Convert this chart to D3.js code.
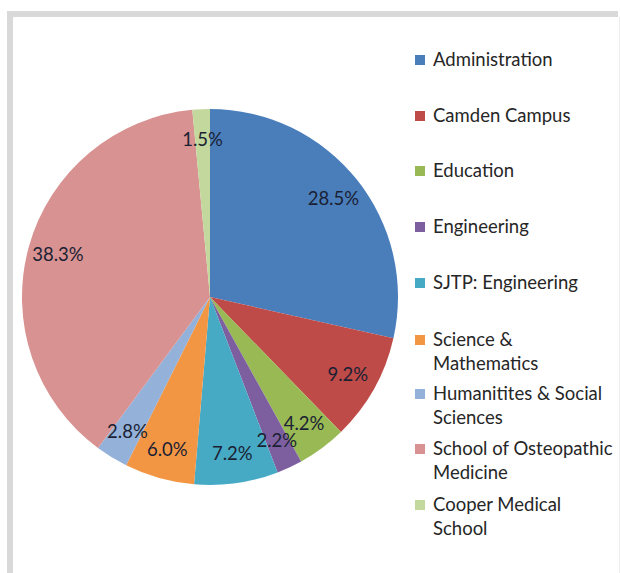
<!DOCTYPE html>
<html>
<head>
<meta charset="utf-8">
<script src="https://cdn.jsdelivr.net/npm/d3@7"></script>
<style>
html,body{margin:0;padding:0;background:#fff;}
svg{display:block;}
</style>
</head>
<body>
<svg id="chart" width="620" height="573"></svg>
<script>
const categories = ["Administration","Camden Campus","Education","Engineering","SJTP: Engineering","Science & Mathematics","Humanitites & Social Sciences","School of Osteopathic Medicine","Cooper Medical School"];
const values = [28.5, 9.2, 4.2, 2.2, 7.2, 6.0, 2.8, 38.3, 1.5];
const legendLines = [["Administration"],["Camden Campus"],["Education"],["Engineering"],["SJTP: Engineering"],["Science &","Mathematics"],["Humanitites & Social","Sciences"],["School of Osteopathic","Medicine"],["Cooper Medical","School"]];
const colors = ["#4A7EBB","#BE4B48","#98B954","#7D5FA0","#46AAC5","#F39644","#93B1D9","#D79291","#C2D89C"];

const svg = d3.select("#chart");
// frame
svg.append("rect").attr("x",0).attr("y",0).attr("width",620).attr("height",573).attr("fill","#fff");
svg.append("path").attr("d","M10,573 V14 H618").attr("fill","none").attr("stroke","#d9d9d9").attr("stroke-width",6);
svg.append("line").attr("x1",619.5).attr("x2",619.5).attr("y1",17).attr("y2",573).attr("stroke","#eeeeee").attr("stroke-width",1);

const cx = 210, cy = 297, r = 188;
const g = svg.append("g").attr("transform",`translate(${cx},${cy})`);
const pie = d3.pie().sort(null).value(d=>d)(values);
const arc = d3.arc().innerRadius(0).outerRadius(r);
g.selectAll("path.slice").data(pie).enter().append("path")
  .attr("class","slice")
  .attr("d",arc)
  .attr("fill",(d,i)=>colors[i]);

const labelArc = d3.arc().innerRadius(r*0.84).outerRadius(r*0.84);
g.selectAll("text.lbl").data(pie).enter().append("text")
  .attr("class","lbl")
  .attr("transform",d=>`translate(${labelArc.centroid(d)})`)
  .attr("text-anchor","middle")
  .attr("dy","0.35em")
  .attr("font-family","Lato, 'Open Sans', sans-serif")
  .attr("font-size",18.5)
  .attr("fill","#1b1f33")
  .text(d=>d3.format(".1f")(d.data)+"%");

// legend
const legendY = [60,116,171,227,283,340,394,449,505];
const lg = svg.append("g");
categories.forEach((c,i)=>{
  const row = lg.append("g").attr("transform",`translate(415,${legendY[i]})`);
  row.append("rect").attr("x",0).attr("y",-5).attr("width",10).attr("height",10).attr("fill",colors[i]);
  legendLines[i].forEach((t,j)=>{
    row.append("text").attr("x",18).attr("y",j*24).attr("dy","0.35em")
      .attr("font-family","Lato, 'Open Sans', sans-serif")
      .attr("font-size",18.5).attr("fill","#262626").text(t);
  });
});
</script>
</body>
</html>
